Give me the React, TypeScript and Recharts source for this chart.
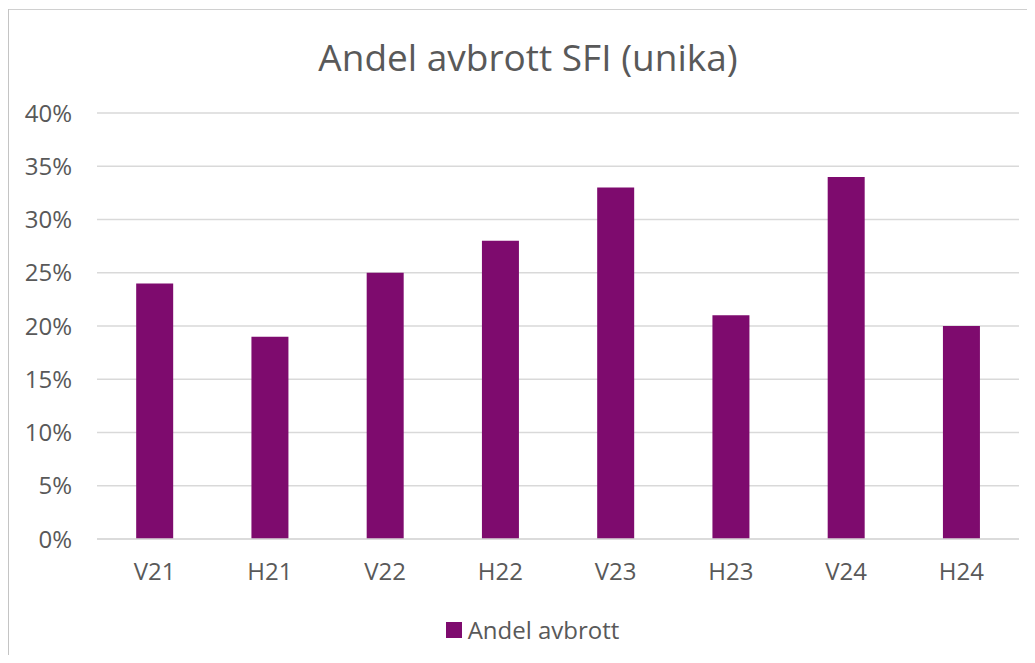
import React from 'react';
import { BarChart, Bar, XAxis, YAxis, CartesianGrid, Legend } from 'recharts';

const periods = ['V21', 'H21', 'V22', 'H22', 'V23', 'H23', 'V24', 'H24'];
const avbrott = [24, 19, 25, 28, 33, 21, 34, 20];
const yTicks = [0, 5, 10, 15, 20, 25, 30, 35, 40];

const data = periods.map((p, i) => ({ name: p, value: avbrott[i] }));

const TEXT = '#595959';
const BAR = '#7e0b6e';
const FRAME = '#d0d0d0';
const FONT = '"Open Sans", sans-serif';

// legend drawn by hand so the icon gap and centring match Excel
const renderLegend = (props: any) => {
  const items = props.payload || [];
  return (
    <div style={{ display: 'flex', justifyContent: 'center', paddingLeft: 46 }}>
      {items.map((it: any) => (
        <div key={it.value} style={{ display: 'flex', alignItems: 'center' }}>
          <span
            style={{
              display: 'inline-block',
              width: 16,
              height: 16,
              background: it.color,
              marginRight: 6,
            }}
          />
          <span style={{ color: TEXT, fontSize: 24, lineHeight: '33px' }}>{it.value}</span>
        </div>
      ))}
    </div>
  );
};

export default function App() {
  return (
    <div
      style={{
        position: 'relative',
        width: 1035,
        height: 663,
        margin: -8,
        overflow: 'hidden',
        background: '#fff',
        fontFamily: FONT,
      }}
    >
      <div
        style={{
          position: 'absolute',
          left: 0,
          top: 38,
          width: 1056,
          textAlign: 'center',
          fontSize: 37,
          lineHeight: '37px',
          color: TEXT,
        }}
      >
        Andel avbrott SFI (unika)
      </div>
      <div style={{ position: 'absolute', left: 0, top: 0 }}>
        <BarChart
          width={1035}
          height={663}
          data={data}
          margin={{ top: 113, right: 16, bottom: 17, left: 0 }}
          barCategoryGap="34%"
        >
          <CartesianGrid vertical={false} stroke="#d9d9d9" strokeWidth={1.5} />
          <XAxis
            dataKey="name"
            height={74}
            tickLine={false}
            tickSize={0}
            tickMargin={24}
            axisLine={{ stroke: '#d9d9d9', strokeWidth: 1.5 }}
            tick={{ fill: TEXT, fontSize: 24, fontFamily: FONT }}
          />
          <YAxis
            width={97}
            domain={[0, 40]}
            ticks={yTicks}
            tickFormatter={(v: number) => `${v}%`}
            axisLine={false}
            tickLine={false}
            tickSize={0}
            tickMargin={25}
            tick={{ fill: TEXT, fontSize: 24, fontFamily: FONT }}
          />
          <Legend verticalAlign="bottom" content={renderLegend} />
          <Bar dataKey="value" name="Andel avbrott" fill={BAR} isAnimationActive={false} />
        </BarChart>
      </div>
      {/* chart frame: only the top and left edges fall inside the picture */}
      <div style={{ position: 'absolute', left: 6, top: 9, width: 1029, height: 1, background: FRAME }} />
      <div style={{ position: 'absolute', left: 6, top: 9, width: 3, height: 654, background: '#c4c4c4' }} />
    </div>
  );
}
